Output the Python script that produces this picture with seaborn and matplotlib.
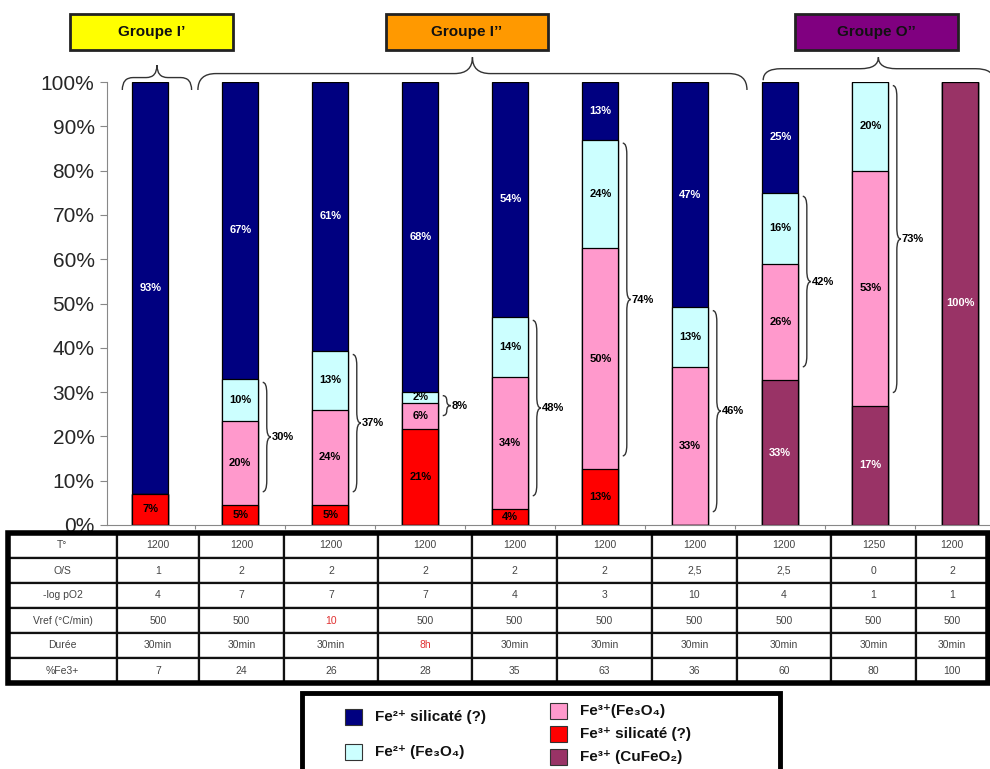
import numpy as np
import pandas as pd
import matplotlib
matplotlib.use("Agg")
import matplotlib.pyplot as plt
from matplotlib.patches import Rectangle, PathPatch
from matplotlib.path import Path
import seaborn as sns

# Data (bottom -> top of each bar)
essais = ["1", "2", "3", "4", "5", "6", "7", "8", "9", "10"]
fe3_silicate = [7, 4.5, 4.5, 21.7, 3.6, 12.6, 0, 0, 0, 0]
fe3_cufeo2 = [0, 0, 0, 0, 0, 0, 0, 32.7, 26.9, 100]
fe3_fe3o4 = [0, 19, 21.5, 5.9, 29.8, 49.9, 35.7, 26.2, 53.1, 0]
fe2_fe3o4 = [0, 9.5, 13.3, 2.4, 13.6, 24.5, 13.5, 16.1, 20, 0]
fe2_silicate = [93, 67, 60.7, 70, 53, 13, 50.8, 25, 0, 0]

lab_fe3_silicate = ["7%", "5%", "5%", "21%", "4%", "13%", "", "", "", ""]
lab_fe3_cufeo2 = ["", "", "", "", "", "", "", "33%", "17%", "100%"]
lab_fe3_fe3o4 = ["", "20%", "24%", "6%", "34%", "50%", "33%", "26%", "53%", ""]
lab_fe2_fe3o4 = ["", "10%", "13%", "2%", "14%", "24%", "13%", "16%", "20%", ""]
lab_fe2_silicate = ["93%", "67%", "61%", "68%", "54%", "13%", "47%", "25%", "", ""]
brace_labels = ["", "30%", "37%", "8%", "48%", "74%", "46%", "42%", "73%", ""]

row_names = ["T°", "O/S", "-log pO2", "Vref (°C/min)", "Durée", "%Fe3+"]
temp = ["1200", "1200", "1200", "1200", "1200", "1200", "1200", "1200", "1250", "1200"]
o_s = ["1", "2", "2", "2", "2", "2", "2,5", "2,5", "0", "2"]
log_po2 = ["4", "7", "7", "7", "4", "3", "10", "4", "1", "1"]
vref = ["500", "500", "10", "500", "500", "500", "500", "500", "500", "500"]
duree = ["30min", "30min", "30min", "8h", "30min", "30min", "30min", "30min", "30min", "30min"]
pct_fe3 = ["7", "24", "26", "28", "35", "63", "36", "60", "80", "100"]

C_NAVY, C_CYAN, C_PINK, C_RED, C_PURP = "#000080", "#CCFFFF", "#FF99CC", "#FF0000", "#993366"

sns.set_style("white")
plt.rcParams['font.family'] = ['Liberation Sans', 'DejaVu Sans']

df = pd.DataFrame({"essai": essais, "red": fe3_silicate, "purp": fe3_cufeo2,
                   "pink": fe3_fe3o4, "cyan": fe2_fe3o4, "navy": fe2_silicate})
df["c_base"] = df["red"] + df["purp"]
df["c_pink"] = df["c_base"] + df["pink"]
df["c_cyan"] = df["c_pink"] + df["cyan"]
df["c_navy"] = df["c_cyan"] + df["navy"]

W, H = 990, 769
fig = plt.figure(figsize=(9.9, 7.69), dpi=100)
ax = fig.add_axes([107 / W, 1 - 525 / H, (W - 107) / W, 443 / H])

# stacked bars drawn as overlapping cumulative bars
for col, color in [("c_navy", C_NAVY), ("c_cyan", C_CYAN), ("c_pink", C_PINK),
                   ("red", C_RED), ("purp", C_PURP)]:
    sns.barplot(data=df, x="essai", y=col, color=color, saturation=1, width=0.4,
                edgecolor="black", linewidth=0.9, errorbar=None, ax=ax)

# segment labels
segs = [("red", 0, lab_fe3_silicate, "black"), ("purp", 0, lab_fe3_cufeo2, "white"),
        ("pink", "c_base", lab_fe3_fe3o4, "black"), ("cyan", "c_pink", lab_fe2_fe3o4, "black"),
        ("navy", "c_cyan", lab_fe2_silicate, "white")]
for col, bot, labs, tc in segs:
    for i in range(len(essais)):
        if labs[i] == "":
            continue
        b = 0 if bot == 0 else df[bot][i]
        ax.text(i, b + df[col][i] / 2, labs[i], ha="center", va="center",
                fontsize=8, fontweight="bold", color=tc)


def brace(ax, a, b, base, h, r, vertical):
    m = (a + b) / 2
    pts = [(a, 0), (a, h / 2), (a + r, h / 2), (m - r, h / 2), (m, h / 2), (m, h),
           (m, h / 2), (m + r, h / 2), (b - r, h / 2), (b, h / 2), (b, 0)]
    codes = [Path.MOVETO, Path.CURVE3, Path.CURVE3, Path.LINETO, Path.CURVE3, Path.CURVE3,
             Path.CURVE3, Path.CURVE3, Path.LINETO, Path.CURVE3, Path.CURVE3]
    if vertical:
        verts = [(base + v, u) for u, v in pts]
    else:
        verts = [(u, base + v) for u, v in pts]
    ax.add_patch(PathPatch(Path(verts, codes), fill=False, lw=1, edgecolor="#333333",
                           clip_on=False))


# braces beside the bars
for i, lab in enumerate(brace_labels):
    if lab == "":
        continue
    y0 = df["c_base"][i] + 3
    y1 = df["c_cyan"][i] - 0.8
    x0 = i + 0.25
    brace(ax, y0, y1, x0, 0.09, min(2.5, (y1 - y0) / 4), True)
    ax.text(x0 + 0.1, (y0 + y1) / 2, lab, ha="left", va="center", fontsize=8,
            fontweight="bold", color="black")

# group braces above the chart
brace(ax, -0.31, 0.46, 98.2, 5.6, 0.12, False)
brace(ax, 0.53, 6.63, 98.2, 7.4, 0.2, False)
brace(ax, 6.81, 9.37, 100.4, 5.2, 0.2, False)

ax.set_xlim(-0.48, 9.33)
ax.set_ylim(0, 100)
ax.set_yticks(np.arange(0, 101, 10))
ax.set_yticklabels([f"{v}%" for v in range(0, 101, 10)], fontsize=15)
ax.set_xticks(np.arange(0.5, 9.5, 1))
ax.set_xticklabels([])
ax.set_xlabel("")
ax.set_ylabel("")
ax.tick_params(axis="y", left=True, length=5, color="#888888", pad=4)
ax.tick_params(axis="x", bottom=True, length=3, color="#888888")
for s in ["top", "right"]:
    ax.spines[s].set_visible(False)
ax.spines["left"].set_color("#888888")
ax.spines["bottom"].set_color("#888888")

# group title boxes
for x0, x1, txt, fc in [(70, 233, "Groupe I’", "#FFFF00"), (386, 548, "Groupe I’’", "#FF9900"),
                        (795, 958, "Groupe O’’", "#800080")]:
    fig.patches.append(Rectangle((x0 / W, 1 - 50 / H), (x1 - x0) / W, 36 / H, facecolor=fc,
                                 edgecolor="#222222", lw=2, transform=fig.transFigure))
    fig.text((x0 + x1) / 2 / W, 1 - 32 / H, txt, ha="center", va="center", fontsize=11,
             fontweight="bold", color="#111111")

# parameter table
tax = fig.add_axes([8 / W, 1 - 683 / H, 980 / W, 150 / H], zorder=3)
tax.axis("off")
cols = [109, 82, 85, 94, 94, 85, 95, 85, 94, 85, 72]
rows = [temp, o_s, log_po2, vref, duree, pct_fe3]
cell_text = [[name] + r for name, r in zip(row_names, rows)]
tbl = tax.table(cellText=cell_text, colWidths=[c / sum(cols) for c in cols],
                cellLoc="center", bbox=[0, 0, 1, 1])
tbl.auto_set_font_size(False)
for (r, c), cell in tbl.get_celld().items():
    cell.set_linewidth(1.6)
    cell.set_edgecolor("#111111")
    cell.set_facecolor("white")
    cell.get_text().set_fontsize(7.5)
    cell.get_text().set_color("#444444")
tbl[3, 3].get_text().set_color("#E03030")
tbl[4, 4].get_text().set_color("#E03030")
tax.add_patch(Rectangle((0, 0), 1, 1, fill=False, lw=4, edgecolor="black",
                        transform=tax.transAxes, clip_on=False))

# legend
fig.patches.append(Rectangle((302 / W, 1 - 780 / H), 478 / W, 87 / H, fill=False, lw=3.5,
                             edgecolor="black", transform=fig.transFigure))
leg = [(345, 717, C_NAVY, "Fe²⁺ silicaté (?)"), (345, 752, C_CYAN, "Fe²⁺ (Fe₃O₄)"),
       (550, 711, C_PINK, "Fe³⁺(Fe₃O₄)"), (550, 734, C_RED, "Fe³⁺ silicaté (?)"),
       (550, 757, C_PURP, "Fe³⁺ (CuFeO₂)")]
for lx, ly, c, txt in leg:
    fig.patches.append(Rectangle((lx / W, 1 - (ly + 8) / H), 17 / W, 16 / H, facecolor=c,
                                 edgecolor="#333333", lw=0.8, transform=fig.transFigure))
    fig.text((lx + 30) / W, 1 - ly / H, txt, ha="left", va="center", fontsize=11,
             fontweight="bold", color="#111111")

fig.savefig("out.png", dpi=100)
